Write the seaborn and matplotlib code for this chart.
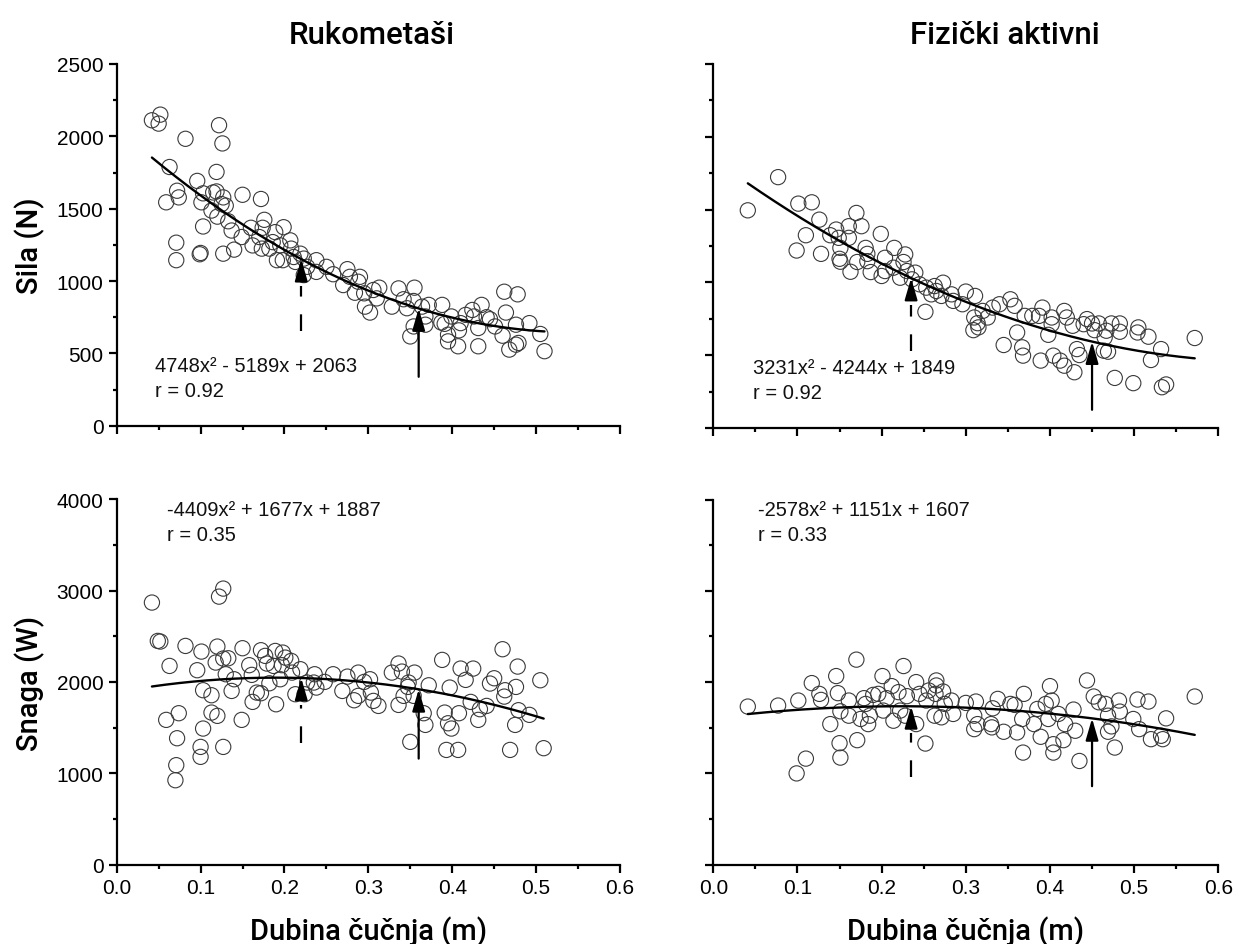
import numpy as np
import matplotlib
matplotlib.use("Agg")
import matplotlib.pyplot as plt
import seaborn as sns
from matplotlib.ticker import MultipleLocator

# ---------------- data ----------------
titles = ["Rukometaši", "Fizički aktivni"]
ylabels = ["Sila (N)", "Snaga (W)"]
xlabel = "Dubina čučnja (m)"

# Rukometaši - sila
x_tl = [0.042, 0.052, 0.050, 0.063, 0.059, 0.072, 0.074, 0.071, 0.071, 0.082,
        0.096, 0.103, 0.101, 0.103, 0.100, 0.099, 0.115, 0.119, 0.122, 0.126,
        0.119, 0.127, 0.125, 0.130, 0.113, 0.120, 0.133, 0.127, 0.137, 0.140,
        0.150, 0.149, 0.160, 0.162, 0.172, 0.176, 0.174, 0.170, 0.173, 0.182,
        0.189, 0.186, 0.199, 0.191, 0.198, 0.195, 0.207, 0.208, 0.211, 0.219,
        0.213, 0.223, 0.223, 0.227, 0.238, 0.238, 0.250, 0.258, 0.270, 0.275,
        0.278, 0.284, 0.288, 0.290, 0.295, 0.296, 0.302, 0.306, 0.313, 0.310,
        0.328, 0.336, 0.342, 0.346, 0.355, 0.354, 0.364, 0.372, 0.350, 0.354,
        0.368, 0.368, 0.388, 0.387, 0.391, 0.399, 0.395, 0.395, 0.407, 0.408,
        0.410, 0.416, 0.424, 0.426, 0.435, 0.431, 0.431, 0.441, 0.445, 0.451,
        0.462, 0.478, 0.464, 0.460, 0.468, 0.476, 0.479, 0.476, 0.492, 0.505,
        0.510]
y_tl = [2111, 2150, 2088, 1788, 1544, 1624, 1578, 1265, 1144, 1983,
        1692, 1606, 1544, 1377, 1194, 1185, 1612, 1619, 2077, 1951,
        1754, 1578, 1532, 1521, 1487, 1445, 1413, 1189, 1349, 1217,
        1596, 1304, 1368, 1246, 1567, 1423, 1368, 1304, 1224, 1224,
        1338, 1269, 1372, 1144, 1144, 1246, 1281, 1224, 1166, 1189,
        1132, 1155, 1041, 1098, 1144, 1063, 1098, 1047, 972, 1082,
        1029, 919, 995, 1029, 915, 823, 782, 938, 954, 880,
        823, 949, 874, 812, 954, 862, 823, 835, 617, 686,
        755, 698, 835, 713, 704, 755, 629, 583, 549, 659,
        709, 766, 800, 755, 835, 675, 549, 750, 736, 686,
        926, 908, 782, 622, 526, 560, 572, 698, 709, 634,
        515]

# Fizički aktivni - sila
x_tr = [0.041, 0.077, 0.101, 0.117, 0.099, 0.110, 0.126, 0.128, 0.139, 0.146,
        0.149, 0.151, 0.150, 0.151, 0.161, 0.161, 0.170, 0.176, 0.163, 0.171,
        0.181, 0.183, 0.183, 0.187, 0.199, 0.204, 0.200, 0.204, 0.215, 0.214,
        0.222, 0.228, 0.226, 0.230, 0.240, 0.236, 0.245, 0.252, 0.253, 0.259,
        0.263, 0.265, 0.273, 0.271, 0.283, 0.285, 0.296, 0.300, 0.311, 0.310,
        0.314, 0.309, 0.315, 0.320, 0.326, 0.332, 0.340, 0.345, 0.353, 0.358,
        0.361, 0.367, 0.368, 0.370, 0.379, 0.387, 0.391, 0.389, 0.398, 0.402,
        0.402, 0.404, 0.412, 0.417, 0.417, 0.420, 0.427, 0.429, 0.432, 0.435,
        0.440, 0.444, 0.450, 0.453, 0.458, 0.465, 0.467, 0.464, 0.469, 0.473,
        0.477, 0.483, 0.483, 0.499, 0.505, 0.504, 0.517, 0.520, 0.532, 0.533,
        0.538, 0.572]
y_tr = [1495, 1723, 1541, 1550, 1219, 1324, 1431, 1196, 1324, 1363,
        1306, 1237, 1162, 1142, 1386, 1306, 1477, 1386, 1073, 1140,
        1237, 1196, 1146, 1071, 1333, 1169, 1044, 1078, 1237, 1101,
        1032, 1192, 1140, 1078, 1067, 1021, 987, 798, 964, 918,
        975, 941, 998, 907, 918, 873, 850, 937, 907, 759,
        720, 672, 691, 804, 759, 827, 850, 570, 884, 839,
        656, 554, 497, 770, 770, 770, 827, 463, 640, 713,
        759, 497, 463, 428, 804, 759, 702, 383, 542, 501,
        713, 748, 718, 672, 718, 622, 668, 531, 524, 718,
        344, 718, 661, 308, 691, 656, 627, 467, 542, 280,
        299, 618]

# Rukometaši - snaga
x_bl = [0.042, 0.049, 0.052, 0.059, 0.063, 0.074, 0.072, 0.071, 0.070, 0.082,
        0.096, 0.101, 0.103, 0.103, 0.100, 0.100, 0.113, 0.113, 0.120, 0.120,
        0.122, 0.127, 0.118, 0.127, 0.133, 0.130, 0.140, 0.137, 0.127, 0.149,
        0.150, 0.158, 0.161, 0.162, 0.167, 0.172, 0.172, 0.177, 0.179, 0.182,
        0.189, 0.187, 0.190, 0.198, 0.197, 0.195, 0.201, 0.208, 0.209, 0.219,
        0.213, 0.224, 0.227, 0.236, 0.238, 0.235, 0.248, 0.258, 0.269, 0.275,
        0.283, 0.288, 0.288, 0.295, 0.302, 0.303, 0.306, 0.312, 0.328, 0.336,
        0.340, 0.336, 0.342, 0.348, 0.347, 0.355, 0.350, 0.354, 0.366, 0.368,
        0.372, 0.388, 0.391, 0.395, 0.399, 0.393, 0.407, 0.397, 0.408, 0.410,
        0.416, 0.425, 0.422, 0.433, 0.431, 0.441, 0.445, 0.450, 0.460, 0.463,
        0.462, 0.469, 0.476, 0.478, 0.479, 0.475, 0.492, 0.505, 0.509]
y_bl = [2869, 2449, 2442, 1584, 2175, 1657, 1383, 1088, 923, 2394,
        2128, 2332, 1909, 1489, 1288, 1179, 1854, 1664, 1628, 2387,
        2934, 3022, 2212, 2256, 2259, 2084, 2029, 1901, 1288, 1584,
        2369, 2183, 2077, 1781, 1883, 1876, 2347, 2285, 2201, 1985,
        2339, 2175, 1755, 2321, 2183, 2029, 2266, 2230, 2102, 2139,
        1865, 1865, 1993, 2084, 1938, 1993, 2000, 2084, 1901, 2058,
        1799, 2102, 1847, 2000, 2029, 1883, 1792, 1737, 2102, 2201,
        2113, 1748, 1847, 1993, 1945, 2102, 1343, 1847, 1657, 1529,
        1963, 2241, 1664, 1547, 1489, 1255, 1255, 1938, 1657, 2146,
        2022, 2146, 1781, 1701, 1584, 1737, 1982, 2040, 2358, 1909,
        1839, 1255, 1945, 2168, 1690, 1529, 1639, 2018, 1274]

# Fizički aktivni - snaga
x_br = [0.041, 0.077, 0.099, 0.110, 0.101, 0.117, 0.126, 0.128, 0.139, 0.146,
        0.148, 0.150, 0.151, 0.151, 0.161, 0.161, 0.170, 0.171, 0.175, 0.179,
        0.181, 0.184, 0.186, 0.190, 0.196, 0.201, 0.202, 0.206, 0.212, 0.214,
        0.220, 0.222, 0.226, 0.228, 0.230, 0.241, 0.241, 0.245, 0.252, 0.253,
        0.256, 0.263, 0.264, 0.265, 0.265, 0.271, 0.273, 0.275, 0.283, 0.285,
        0.300, 0.310, 0.310, 0.312, 0.314, 0.330, 0.332, 0.331, 0.338, 0.345,
        0.353, 0.358, 0.361, 0.367, 0.368, 0.369, 0.381, 0.385, 0.389, 0.395,
        0.398, 0.400, 0.402, 0.404, 0.404, 0.410, 0.416, 0.418, 0.428, 0.430,
        0.435, 0.444, 0.452, 0.458, 0.466, 0.469, 0.469, 0.473, 0.477, 0.482,
        0.483, 0.499, 0.504, 0.506, 0.517, 0.520, 0.532, 0.534, 0.538, 0.572]
y_br = [1732, 1743, 1000, 1162, 1798, 1989, 1871, 1805, 1540, 2066,
        1879, 1331, 1173, 1680, 1798, 1632, 2246, 1364, 1596, 1824,
        1761, 1540, 1632, 1860, 1871, 2066, 1688, 1824, 1956, 1577,
        1890, 1688, 2176, 1632, 1846, 1540, 2000, 1871, 1327, 1798,
        1908, 1632, 1871, 2018, 1963, 1614, 1897, 1761, 1798, 1651,
        1772, 1632, 1485, 1787, 1540, 1540, 1713, 1504, 1816, 1456,
        1761, 1750, 1449, 1596, 1228, 1871, 1540, 1706, 1401, 1761,
        1596, 1956, 1798, 1320, 1228, 1651, 1364, 1540, 1699, 1467,
        1136, 2018, 1842, 1779, 1761, 1456, 1632, 1515, 1283, 1798,
        1677, 1596, 1809, 1485, 1787, 1375, 1412, 1375, 1603, 1842]

# quadratic fit coefficients (a, b, c)
coef_tl = [4748, -5189, 2063]
coef_tr = [3231, -4244, 1849]
coef_bl = [-4409, 1677, 1887]
coef_br = [-2578, 1151, 1607]

eq_texts = ["4748x² - 5189x + 2063", "3231x² - 4244x + 1849",
            "-4409x² + 1677x + 1887", "-2578x² + 1151x + 1607"]
r_texts = ["r = 0.92", "r = 0.92", "r = 0.35", "r = 0.33"]

# arrow x positions (dashed, solid) and arrow start values
arrow_x_left = [0.22, 0.36]
arrow_x_right = [0.235, 0.45]
arrow_base_tl = [652, 338]
arrow_base_tr = [531, 125]
arrow_base_bl = [1336, 1160]
arrow_base_br = [963, 860]

# ---------------- style ----------------
sns.set_theme(style="ticks")
plt.rcParams["font.family"] = ["Liberation Sans", "DejaVu Sans"]
plt.rcParams["axes.linewidth"] = 1.6
plt.rcParams["xtick.major.width"] = 1.6
plt.rcParams["ytick.major.width"] = 1.6
plt.rcParams["xtick.minor.width"] = 1.6
plt.rcParams["ytick.minor.width"] = 1.6
plt.rcParams["xtick.major.size"] = 5.5
plt.rcParams["ytick.major.size"] = 5.5
plt.rcParams["xtick.minor.size"] = 3.0
plt.rcParams["ytick.minor.size"] = 3.0
plt.rcParams["xtick.color"] = "black"
plt.rcParams["ytick.color"] = "black"
plt.rcParams["axes.edgecolor"] = "black"

W, H = 1237, 945
fig = plt.figure(figsize=(W / 100, H / 100), dpi=100)


def rect(l, r, b, t):
    return [l / W, 1 - b / H, (r - l) / W, (b - t) / H]


panels = [
    dict(rect=rect(116.7, 620.0, 426.7, 65), x=x_tl, y=y_tl, coef=coef_tl, ymax=2500,
         major=500, minor=250, ax_x=arrow_x_left, base=arrow_base_tl, xlab=False, ylab=True,
         eq=eq_texts[0], r=r_texts[0], tx=0.0457, ty=(379, 207)),
    dict(rect=rect(713.3, 1218.3, 429.0, 65), x=x_tr, y=y_tr, coef=coef_tr, ymax=2500,
         major=500, minor=250, ax_x=arrow_x_right, base=arrow_base_tr, xlab=False, ylab=False,
         eq=eq_texts[1], r=r_texts[1], tx=0.047, ty=(379, 207)),
    dict(rect=rect(116.7, 620.0, 865.5, 500.3), x=x_bl, y=y_bl, coef=coef_bl, ymax=4000,
         major=1000, minor=500, ax_x=arrow_x_left, base=arrow_base_bl, xlab=True, ylab=True,
         eq=eq_texts[2], r=r_texts[2], tx=0.0596, ty=(3828, 3557)),
    dict(rect=rect(713.3, 1218.3, 865.7, 500.5), x=x_br, y=y_br, coef=coef_br, ymax=4000,
         major=1000, minor=500, ax_x=arrow_x_right, base=arrow_base_br, xlab=True, ylab=False,
         eq=eq_texts[3], r=r_texts[3], tx=0.053, ty=(3828, 3557)),
]

for p in panels:
    ax = fig.add_axes(p["rect"])
    sns.scatterplot(x=p["x"], y=p["y"], ax=ax, marker="o", s=120,
                    facecolors="none", edgecolor="#3a3a3a", linewidth=0.8, zorder=2)
    xs = np.linspace(min(p["x"]), max(p["x"]), 200)
    a, b, c = p["coef"]
    ax.plot(xs, a * xs ** 2 + b * xs + c, color="black", lw=1.7, zorder=3)

    ax.set_xlim(0, 0.6)
    ax.set_ylim(0, p["ymax"])
    ax.xaxis.set_major_locator(MultipleLocator(0.1))
    ax.xaxis.set_minor_locator(MultipleLocator(0.05))
    ax.yaxis.set_major_locator(MultipleLocator(p["major"]))
    ax.yaxis.set_minor_locator(MultipleLocator(p["minor"]))
    ax.tick_params(which="both", direction="out", labelsize=15, pad=4)
    ax.xaxis.set_major_formatter(plt.FuncFormatter(lambda v, _: f"{v:.1f}"))
    ax.yaxis.set_major_formatter(plt.FuncFormatter(lambda v, _: f"{v:.0f}"))
    if not p["xlab"]:
        ax.tick_params(axis="x", labelbottom=False)
    if not p["ylab"]:
        ax.tick_params(axis="y", labelleft=False)
    sns.despine(ax=ax)
    for s in ["left", "bottom"]:
        ax.spines[s].set_linewidth(1.6)
    ax.set_facecolor("white")

    # arrows
    bbox_h = p["rect"][3] * H
    units_per_px = p["ymax"] / bbox_h
    head_len = 15 * units_per_px
    for i, (xa, base) in enumerate(zip(p["ax_x"], p["base"])):
        tip = a * xa ** 2 + b * xa + c
        if i == 0:
            ax.plot([xa, xa], [base, tip - head_len - 12 * units_per_px], color="black",
                    lw=1.6, dashes=(7.5, 8), zorder=4)
            ax.annotate("", xy=(xa, tip), xytext=(xa, tip - head_len),
                        arrowprops=dict(arrowstyle="-|>,head_length=1.1,head_width=0.32",
                                        color="black", lw=1.6, shrinkA=0, shrinkB=0),
                        zorder=5)
        else:
            ax.annotate("", xy=(xa, tip), xytext=(xa, base),
                        arrowprops=dict(arrowstyle="-|>,head_length=1.1,head_width=0.32",
                                        color="black", lw=1.6, shrinkA=0, shrinkB=0),
                        zorder=5)

    ax.text(p["tx"], p["ty"][0], p["eq"], fontsize=14.5, ha="left", va="baseline",
            color="#111111")
    ax.text(p["tx"], p["ty"][1], p["r"], fontsize=14.5, ha="left", va="baseline",
            color="#111111")

# titles and axis labels
lab_font = dict(family=["Roboto", "DejaVu Sans"], color="black", fontweight="medium")
fig.text(371.5 / W, 1 - 44 / H, titles[0], fontsize=22.5, ha="center", va="baseline", **lab_font)
fig.text(1005 / W, 1 - 44 / H, titles[1], fontsize=22.5, ha="center", va="baseline", **lab_font)
fig.text(30 / W, 1 - 246 / H, ylabels[0], fontsize=21, ha="center", va="center",
         rotation=90, **lab_font)
fig.text(30 / W, 1 - 683 / H, ylabels[1], fontsize=21, ha="center", va="center",
         rotation=90, **lab_font)
fig.text(368.3 / W, 1 - 940 / H, xlabel, fontsize=21, ha="center", va="baseline", **lab_font)
fig.text(965.8 / W, 1 - 940 / H, xlabel, fontsize=21, ha="center", va="baseline", **lab_font)

fig.savefig("out.png", dpi=100, facecolor="white")
